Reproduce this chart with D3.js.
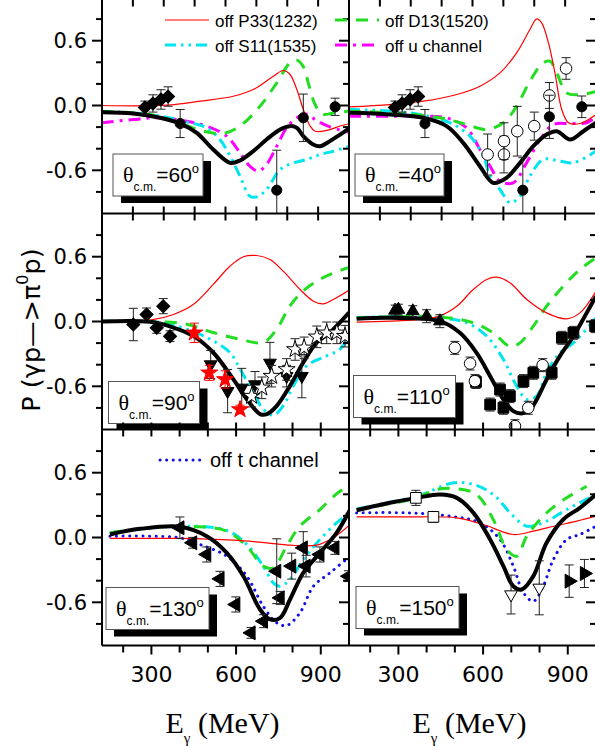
<!DOCTYPE html>
<html><head><meta charset="utf-8">
<script src="https://cdn.jsdelivr.net/npm/d3@7"></script>
<style>body{margin:0;background:#fff}svg{display:block}</style>
</head><body>
<svg id="chart" width="595" height="746"></svg>
<script>
// ---------------- DATA ----------------
const angles = [60, 40, 90, 110, 130, 150];
const yTickValues = [-1, -0.8, -0.6, -0.4, -0.2, 0, 0.2, 0.4, 0.6, 0.8, 1];
const yTickLabels = ["0.6", "0.0", "-0.6"];
const yLabelValues = [0.6, 0, -0.6];
const xTickValues = [100, 200, 300, 400, 500, 600, 700, 800, 900, 1000];
const xTickLabels = ["300", "600", "900"];
const xLabelValues = [300, 600, 900];
const legendLabels = ["off P33(1232)", "off S11(1535)", "off D13(1520)", "off u channel", "off t channel"];

// Panel 60 deg
const a60_full = [[99,-0.062],[201,-0.074],[288,-0.114],[353,-0.167],[407,-0.253],[460,-0.407],[515,-0.531],[547,-0.509],[590,-0.423],[633,-0.315],[677,-0.222],[709,-0.191],[731,-0.207],[752,-0.284],[784,-0.361],[806,-0.377],[838,-0.33],[871,-0.269],[903,-0.207]];
const a60_p33 = [[99,0.0],[310,0.003],[417,0.04],[525,0.086],[590,0.148],[655,0.27],[687,0.324],[709,0.287],[731,0.148],[752,-0.037],[774,-0.19],[790,-0.238],[828,-0.231],[871,-0.19],[903,-0.167]];
const a60_d13 = [[99,-0.059],[255,-0.083],[363,-0.175],[428,-0.237],[493,-0.26],[547,-0.19],[612,-0.006],[666,0.21],[709,0.395],[731,0.42],[752,0.36],[768,0.21],[790,0.01],[812,-0.08],[849,-0.07],[903,-0.05]];
const a60_s11 = [[99,-0.053],[255,-0.083],[363,-0.145],[439,-0.207],[482,-0.315],[515,-0.469],[547,-0.654],[579,-0.84],[601,-0.846],[633,-0.778],[677,-0.593],[720,-0.531],[763,-0.5],[806,-0.454],[849,-0.423],[903,-0.377]];
const a60_u = [[99,-0.16],[201,-0.13],[288,-0.114],[374,-0.145],[439,-0.191],[504,-0.284],[547,-0.438],[579,-0.562],[606,-0.608],[633,-0.546],[666,-0.377],[698,-0.207],[731,-0.114],[763,-0.08],[795,-0.14],[840,-0.2],[903,-0.25]];
const a60_diamondE = [239, 265, 291, 314];
const a60_diamondP = [-0.019, 0.019, 0.056, 0.083];
const a60_diamondErr = [0.06, 0.08, 0.09, 0.09];
const a60_circleE = [353, 666, 752, 855];
const a60_circleP = [-0.167, -0.784, -0.114, -0.012];
const a60_circleErr = [0.13, 0.37, 0.22, 0.08];

// Panel 40 deg
const a40_full = [[100,-0.068],[233,-0.083],[341,-0.114],[416,-0.191],[470,-0.346],[524,-0.562],[567,-0.716],[610,-0.67],[654,-0.531],[697,-0.377],[740,-0.269],[773,-0.238],[816,-0.315],[859,-0.238],[900,-0.16]];
const a40_p33 = [[100,-0.012],[233,0.009],[341,0.04],[449,0.102],[524,0.179],[589,0.302],[643,0.488],[686,0.704],[708,0.802],[724,0.765],[746,0.58],[767,0.302],[789,-0.037],[811,-0.16],[848,-0.167],[900,-0.083]];
const a40_d13 = [[100,-0.053],[233,-0.068],[395,-0.114],[481,-0.176],[546,-0.222],[600,-0.16],[643,-0.006],[686,0.225],[729,0.395],[751,0.41],[773,0.302],[805,0.117],[848,0.1],[900,0.13]];
const a40_s11 = [[100,-0.037],[233,-0.052],[330,-0.083],[427,-0.16],[492,-0.284],[535,-0.469],[557,-0.654],[589,-0.778],[622,-0.9],[654,-0.84],[686,-0.654],[729,-0.5],[783,-0.515],[827,-0.531],[900,-0.423]];
const a40_u = [[100,-0.099],[233,-0.099],[341,-0.099],[416,-0.114],[481,-0.207],[524,-0.407],[557,-0.562],[589,-0.701],[632,-0.716],[675,-0.531],[719,-0.315],[762,-0.176],[816,-0.167],[870,-0.16],[900,-0.099]];
const a40_diamondE = [249, 272, 298, 324];
const a40_diamondP = [-0.019, 0.019, 0.056, 0.083];
const a40_diamondErr = [0.06, 0.08, 0.09, 0.09];
const a40_circleE = [346, 663, 749, 854];
const a40_circleP = [-0.167, -0.784, -0.105, -0.012];
const a40_circleErr = [0.13, 0.3, 0.2, 0.1];
const a40_openE = [549, 602, 602, 645, 700, 749, 803];
const a40_openP = [-0.454, -0.454, -0.33, -0.238, -0.191, 0.093, 0.343];
const a40_openErr = [0.19, 0.17, 0.17, 0.23, 0.13, 0.12, 0.1];

// Panel 90 deg
const a90_full = [[124,0],[295,-0.003],[378,-0.056],[448,-0.133],[519,-0.287],[590,-0.534],[638,-0.719],[685,-0.858],[709,-0.858],[744,-0.781],[791,-0.596],[838,-0.38],[886,-0.194],[933,-0.102],[968,-0.009],[1000,0.083]];
const a90_p33 = [[124,0],[295,0.012],[378,0.065],[448,0.157],[519,0.343],[578,0.512],[626,0.6],[673,0.611],[720,0.574],[767,0.466],[827,0.296],[874,0.188],[909,0.164],[944,0.204],[1000,0.29]];
const a90_d13 = [[124,0],[295,0],[425,-0.025],[519,-0.102],[614,-0.164],[696,-0.194],[744,-0.071],[791,0.145],[838,0.284],[909,0.407],[1000,0.5]];
const a90_s11 = [[124,0],[330,-0.009],[425,-0.071],[508,-0.164],[578,-0.287],[614,-0.441],[661,-0.657],[696,-0.812],[732,-0.867],[767,-0.781],[803,-0.596],[850,-0.411],[921,-0.318],[968,-0.256],[1000,-0.133]];
const a90_diamondE = [236, 283, 319, 342, 366];
const a90_diamondP = [-0.028, 0.065, -0.059, 0.142, -0.136];
const a90_diamondErr = [0.15, 0.06, 0.05, 0.07, 0.05];
const a90_redStarE = [452, 505, 561, 614];
const a90_redStarP = [-0.105, -0.475, -0.537, -0.815];
const a90_redStarErr = [0.09, 0.07, 0.08, 0.04];
const a90_downE = [510, 570, 620, 667, 720, 779, 833];
const a90_downP = [-0.398, -0.645, -0.614, -0.583, -0.383, -0.506, -0.506];
const a90_downErr = [0.13, 0.2, 0.18, 0.12, 0.19, 0.1, 0.2];
const a90_openStarE = [655, 691, 726, 779, 809, 841, 886, 921, 957, 986];
const a90_openStarP = [-0.691, -0.614, -0.506, -0.444, -0.259, -0.244, -0.142, -0.105, -0.105, -0.136];
const a90_openStarErr = [0.1, 0.1, 0.1, 0.1, 0.1, 0.1, 0.1, 0.1, 0.1, 0.1];

// Panel 110 deg
const a110_full = [[152,0.025],[270,0.034],[447,0.003],[518,-0.105],[577,-0.29],[625,-0.506],[672,-0.722],[707,-0.83],[740,-0.85],[765,-0.82],[790,-0.722],[825,-0.537],[872,-0.321],[920,-0.136],[967,0.08],[1000,0.234]];
const a110_p33 = [[152,-0.006],[270,0.003],[436,0.043],[507,0.142],[565,0.296],[613,0.389],[648,0.41],[695,0.358],[755,0.204],[825,0.08],[896,0.025],[943,0.08],[1000,0.281]];
const a110_d13 = [[152,0.034],[270,0.043],[447,0.043],[565,-0.012],[636,-0.105],[695,-0.23],[730,-0.2],[778,-0.043],[825,0.142],[884,0.327],[943,0.481],[1000,0.59]];
const a110_s11 = [[152,0.034],[329,0.049],[447,0.034],[542,-0.012],[613,-0.136],[672,-0.352],[719,-0.599],[755,-0.722],[790,-0.691],[825,-0.475],[872,-0.29],[920,-0.198],[1000,0.034]];
const a110_upE = [288, 300, 351, 400, 447];
const a110_upP = [0.102, 0.11, 0.096, 0.049, 0.003];
const a110_upErr = [0.05, 0.05, 0.05, 0.06, 0.06];
const a110_openE = [500, 554, 571, 713, 760, 811];
const a110_openP = [-0.244, -0.389, -0.552, -0.969, -0.799, -0.404];
const a110_openErr = [0.06, 0.06, 0.06, 0.06, 0.06, 0.06];
const a110_squareE = [575, 625, 660, 672, 695, 743, 778, 843, 879, 920, 997];
const a110_squareP = [-0.56, -0.769, -0.63, -0.799, -0.691, -0.552, -0.475, -0.475, -0.151, -0.105, -0.043];
const a110_squareErr = [0.06, 0.06, 0.06, 0.06, 0.06, 0.06, 0.06, 0.06, 0.06, 0.06, 0.06];

// Panel 130 deg
const a130_full = [[153,0.028],[260,0.08],[401,0.099],[496,0.012],[567,-0.142],[626,-0.358],[685,-0.667],[720,-0.759],[756,-0.744],[791,-0.574],[838,-0.327],[897,-0.142],[956,0.043],[1004,0.259]];
const a130_p33 = [[153,-0.009],[401,-0.009],[590,-0.025],[708,-0.049],[791,-0.071],[886,-0.071],[944,-0.003],[1004,0.12]];
const a130_d13 = [[153,0.043],[295,0.093],[472,0.099],[567,0.059],[638,-0.08],[696,-0.265],[732,-0.28],[779,-0.08],[826,0.105],[897,0.259],[968,0.429],[1004,0.475]];
const a130_s11 = [[153,0.043],[401,0.105],[567,0.065],[638,-0.065],[696,-0.265],[732,-0.42],[756,-0.451],[791,-0.389],[838,-0.204],[897,-0.019],[956,0.136],[1004,0.228]];
const a130_t = [[153,0.012],[295,0.012],[401,-0.003],[472,-0.065],[567,-0.173],[638,-0.358],[696,-0.636],[744,-0.79],[779,-0.815],[826,-0.698],[874,-0.451],[933,-0.327],[1004,-0.173]];
const a130_leftE = [401, 446, 496, 543, 599, 653, 697, 756, 744, 797, 838, 848, 897, 950, 998];
const a130_leftP = [0.09, -0.049, -0.157, -0.383, -0.62, -0.883, -0.775, -0.559, -0.312, -0.265, -0.096, -0.265, -0.157, -0.096, -0.358];
const a130_leftErr = [0.1, 0.05, 0.07, 0.07, 0.07, 0.05, 0.06, 0.06, 0.3, 0.12, 0.15, 0.1, 0.07, 0.06, 0.05];

// Panel 150 deg
const a150_full = [[152,0.253],[270,0.321],[365,0.367],[447,0.398],[507,0.367],[566,0.228],[625,-0.019],[672,-0.265],[707,-0.451],[737,-0.481],[778,-0.358],[825,-0.049],[884,0.167],[943,0.275],[1000,0.398]];
const a150_p33 = [[152,0.191],[329,0.191],[507,0.182],[601,0.12],[707,0.028],[778,0.059],[861,0.111],[932,0.151],[1000,0.197]];
const a150_d13 = [[152,0.259],[365,0.367],[436,0.444],[507,0.451],[577,0.398],[636,0.167],[684,-0.111],[719,-0.173],[755,0.012],[825,0.228],[896,0.367],[967,0.475]];
const a150_s11 = [[152,0.265],[365,0.383],[495,0.506],[566,0.491],[636,0.398],[707,0.197],[755,0.105],[825,0.151],[896,0.259],[1000,0.398]];
const a150_t = [[152,0.228],[329,0.228],[486,0.197],[589,0.136],[660,-0.019],[707,-0.265],[743,-0.512],[778,-0.59],[813,-0.451],[849,-0.204],[896,-0.019],[943,0.028],[1000,0.105]];
const a150_openSqE = [362, 424];
const a150_openSqP = [0.367, 0.191];
const a150_openSqErr = [0.07, 0.05];
const a150_openDownE = [699, 799];
const a150_openDownP = [-0.528, -0.466];
const a150_openDownErr = [0.18, 0.25];
const a150_rightE = [905, 959];
const a150_rightP = [-0.404, -0.333];
const a150_rightErr = [0.15, 0.13];

// ---------------- LAYOUT / STYLE ----------------
const W = 595, H = 746;
const colLeft = [102, 349], panelW = 247;
const rowTop = [-2.5, 213.5, 429.5], panelH = 216;
const rowDomain = [[100, 900], [125, 1000], [125, 1000]];
const styles = {
  full: {stroke: "#000", width: 4, dash: null},
  p33: {stroke: "#ff0000", width: 1.2, dash: null},
  d13: {stroke: "#22dd22", width: 3, dash: "12,9"},
  s11: {stroke: "#00e5ee", width: 3, dash: "11,5,2.5,5,2.5,5"},
  u: {stroke: "#ff00ff", width: 3, dash: "12,6,3,6"},
  t: {stroke: "#1010e8", width: 3, dash: "0.1,6.5", cap: "round"}
};

function pts(E, P, Err) { return E.map((e, i) => ({e, p: P[i], err: Err[i]})); }

const panels = [
  {angle: angles[0], row: 0, col: 0, curves: {u: a60_u, s11: a60_s11, d13: a60_d13, p33: a60_p33, full: a60_full},
   data: [{sym: "diamond", fill: "#000", pts: pts(a60_diamondE, a60_diamondP, a60_diamondErr)},
          {sym: "circle", fill: "#000", pts: pts(a60_circleE, a60_circleP, a60_circleErr)}],
   box: [11, -59.5, 90]},
  {angle: angles[1], row: 0, col: 1, curves: {u: a40_u, s11: a40_s11, d13: a40_d13, p33: a40_p33, full: a40_full},
   data: [{sym: "diamond", fill: "#000", pts: pts(a40_diamondE, a40_diamondP, a40_diamondErr)},
          {sym: "openCircle", fill: "#fff", pts: pts(a40_openE, a40_openP, a40_openErr)},
          {sym: "circle", fill: "#000", pts: pts(a40_circleE, a40_circleP, a40_circleErr)}],
   box: [6, -59.5, 89]},
  {angle: angles[2], row: 1, col: 0, curves: {s11: a90_s11, d13: a90_d13, p33: a90_p33, full: a90_full},
   data: [{sym: "diamond", fill: "#000", pts: pts(a90_diamondE, a90_diamondP, a90_diamondErr)},
          {sym: "down", fill: "#000", pts: pts(a90_downE, a90_downP, a90_downErr)},
          {sym: "star", fill: "#fff", pts: pts(a90_openStarE, a90_openStarP, a90_openStarErr)},
          {sym: "star", fill: "#ff0000", stroke: "#ff0000", err: "#ff0000", pts: pts(a90_redStarE, a90_redStarP, a90_redStarErr)}],
   box: [6.5, -48, 91]},
  {angle: angles[3], row: 1, col: 1, curves: {s11: a110_s11, d13: a110_d13, p33: a110_p33, full: a110_full},
   data: [{sym: "up", fill: "#000", pts: pts(a110_upE, a110_upP, a110_upErr)},
          {sym: "square", fill: "#000", pts: pts(a110_squareE, a110_squareP, a110_squareErr)},
          {sym: "openCircle", fill: "#fff", pts: pts(a110_openE, a110_openP, a110_openErr)}],
   box: [4.5, -54, 102]},
  {angle: angles[4], row: 2, col: 0, curves: {t: a130_t, s11: a130_s11, d13: a130_d13, p33: a130_p33, full: a130_full},
   data: [{sym: "left", fill: "#000", pts: pts(a130_leftE, a130_leftP, a130_leftErr)}],
   box: [4, -58, 103]},
  {angle: angles[5], row: 2, col: 1, curves: {t: a150_t, p33: a150_p33, s11: a150_s11, d13: a150_d13, full: a150_full},
   data: [{sym: "square", fill: "#fff", pts: pts(a150_openSqE, a150_openSqP, a150_openSqErr)},
          {sym: "down", fill: "#fff", pts: pts(a150_openDownE, a150_openDownP, a150_openDownErr)},
          {sym: "right", fill: "#000", pts: pts(a150_rightE, a150_rightP, a150_rightErr)}],
   box: [7, -59, 103]}
];

const svg = d3.select("#chart");
svg.append("rect").attr("width", W).attr("height", H).attr("fill", "#fff");
const defs = svg.append("defs");
const SANS = "'Liberation Sans', Arial, sans-serif";
const WIDE = "'DejaVu Sans', Verdana, sans-serif";
const SERIF = "'Liberation Serif', 'Times New Roman', serif";

function symbolPath(sym) {
  switch (sym) {
    case "circle": return {p: d3.symbol(d3.symbolCircle, 80)(), r: 0};
    case "openCircle": return {p: d3.symbol(d3.symbolCircle, 105)(), r: 0};
    case "square": return {p: d3.symbol(d3.symbolSquare, 115)(), r: 0};
    case "diamond": return {p: d3.symbol(d3.symbolSquare, 85)(), r: 45};
    case "star": return {p: d3.symbol(d3.symbolStar, 90)(), r: 0};
    case "up": return {p: d3.symbol(d3.symbolTriangle, 70)(), r: 0};
    case "down": return {p: d3.symbol(d3.symbolTriangle, 70)(), r: 180};
    case "left": return {p: d3.symbol(d3.symbolTriangle, 85)(), r: -90};
    case "right": return {p: d3.symbol(d3.symbolTriangle, 85)(), r: 90};
  }
}

panels.forEach((pn, idx) => {
  const x0 = colLeft[pn.col], y0 = rowTop[pn.row];
  const x = d3.scaleLinear().domain(rowDomain[pn.row]).range([x0, x0 + panelW]);
  const y = d3.scaleLinear().domain([-1, 1]).range([y0 + panelH, y0]);
  const clipId = "clip" + idx;
  defs.append("clipPath").attr("id", clipId).append("rect")
    .attr("x", x0).attr("y", y0).attr("width", panelW).attr("height", panelH);
  const g = svg.append("g");
  const plot = g.append("g").attr("clip-path", `url(#${clipId})`);
  const line = d3.line().x(d => x(d[0])).y(d => y(d[1])).curve(d3.curveCatmullRom.alpha(0.5));
  Object.entries(pn.curves).forEach(([k, arr]) => {
    const s = styles[k];
    plot.append("path").attr("d", line(arr)).attr("fill", "none")
      .attr("stroke", s.stroke).attr("stroke-width", s.width)
      .attr("stroke-dasharray", s.dash).attr("stroke-linecap", s.cap || "butt")
      .attr("stroke-linejoin", "round");
  });
  pn.data.forEach(set => {
    const sp = symbolPath(set.sym);
    set.pts.forEach(d => {
      const cx = x(d.e), cy = y(d.p), t = y(d.p + d.err), b = y(d.p - d.err);
      const ec = set.err || "#222";
      plot.append("line").attr("x1", cx).attr("x2", cx).attr("y1", t).attr("y2", b).attr("stroke", ec).attr("stroke-width", 1);
      [t, b].forEach(yy => plot.append("line").attr("x1", cx - 4.5).attr("x2", cx + 4.5).attr("y1", yy).attr("y2", yy).attr("stroke", ec).attr("stroke-width", 1));
      plot.append("path").attr("d", sp.p).attr("transform", `translate(${cx},${cy}) rotate(${sp.r})`)
        .attr("fill", set.fill).attr("stroke", set.stroke || "#000").attr("stroke-width", 1);
    });
  });
  // label box
  const bx = x0 + pn.box[0], by = y0 + panelH + pn.box[1], bw = pn.box[2], bh = 42;
  plot.append("rect").attr("x", bx + 8).attr("y", by + 7).attr("width", bw).attr("height", bh).attr("fill", "#000");
  plot.append("rect").attr("x", bx).attr("y", by).attr("width", bw).attr("height", bh).attr("fill", "#fff").attr("stroke", "#555").attr("stroke-width", 1);
  const tx = g.append("text").attr("x", bx + 10).attr("y", by + 28).attr("font-family", SANS).attr("fill", "#000");
  tx.append("tspan").attr("font-family", SERIF).attr("font-size", 22).text("θ");
  tx.append("tspan").attr("font-size", 12).attr("dy", 9).text("c.m.");
  tx.append("tspan").attr("font-size", 21).attr("dy", -9).text("=" + pn.angle);
  tx.append("tspan").attr("font-size", 13).attr("dy", -9).text("o");

  const ax = svg.append("g");
  xTickValues.filter(v => v > rowDomain[pn.row][0] && v < rowDomain[pn.row][1]).forEach(v => {
    const major = xLabelValues.includes(v) && pn.row === 2;
    ax.append("line").attr("x1", x(v)).attr("x2", x(v)).attr("y1", y0 + panelH - (pn.row < 2 ? 7 : 0)).attr("y2", y0 + panelH + (major ? 9 : 7))
      .attr("stroke", "#000").attr("stroke-width", 2);
  });
  if (pn.row === 0) {
    xTickValues.filter(v => v > rowDomain[0][0] && v < rowDomain[0][1]).forEach(v => {
      ax.append("line").attr("x1", x(v)).attr("x2", x(v)).attr("y1", y0).attr("y2", y0 + 9).attr("stroke", "#000").attr("stroke-width", 2);
    });
  }
  yTickValues.filter(v => v > -1 && v < 1).forEach(v => {
    const major = yLabelValues.includes(v);
    ax.append("line").attr("x1", x0 - (major ? 10 : 6)).attr("x2", x0).attr("y1", y(v)).attr("y2", y(v))
      .attr("stroke", "#000").attr("stroke-width", 2);
  });
  if (pn.col === 1) {
    yTickValues.filter(v => v > -1 && v < 1).forEach(v => {
      const major = yLabelValues.includes(v);
      ax.append("line").attr("x1", x0 + panelW - (major ? 10 : 6)).attr("x2", x0 + panelW).attr("y1", y(v)).attr("y2", y(v))
        .attr("stroke", "#000").attr("stroke-width", 2);
    });
  }
  if (pn.col === 0) {
    yLabelValues.forEach((v, i) => {
      ax.append("text").attr("x", x0 - 15).attr("y", y(v) + 7.5).attr("text-anchor", "end")
        .attr("font-family", WIDE).attr("font-size", 21).text(yTickLabels[i]);
    });
  }
  if (pn.row === 2) {
    xLabelValues.forEach((v, i) => {
      ax.append("text").attr("x", x(v)).attr("y", y0 + panelH + 36).attr("text-anchor", "middle")
        .attr("font-family", WIDE).attr("font-size", 22).text(xTickLabels[i]);
    });
    const t = ax.append("text").attr("x", x0 + panelW / 2 - 3).attr("y", 733).attr("text-anchor", "middle")
      .attr("font-family", SERIF).attr("font-size", 30);
    t.append("tspan").text("E");
    t.append("tspan").attr("font-size", 15).attr("dy", 10).text("γ");
    t.append("tspan").attr("dy", -10).text(" (MeV)");
  }
});

// frame lines
const frame = svg.append("g").attr("stroke", "#000").attr("stroke-width", 2);
rowTop.concat([rowTop[2] + panelH]).forEach(yy => frame.append("line").attr("x1", colLeft[0]).attr("x2", 597).attr("y1", yy).attr("y2", yy));
[colLeft[0], colLeft[1]].forEach(xx => frame.append("line").attr("x1", xx).attr("x2", xx).attr("y1", -3).attr("y2", rowTop[2] + panelH));

// legends
const leg = svg.append("g").attr("font-family", SANS);
const legendItems = [
  {k: "p33", x: 165, y: 20, label: legendLabels[0], fs: 17},
  {k: "s11", x: 165, y: 45, label: legendLabels[1], fs: 17},
  {k: "d13", x: 335, y: 20, label: legendLabels[2], fs: 17},
  {k: "u", x: 335, y: 45, label: legendLabels[3], fs: 17},
  {k: "t", x: 160, y: 460, label: legendLabels[4], fs: 20}
];
legendItems.forEach(it => {
  const s = styles[it.k];
  leg.append("line").attr("x1", it.x).attr("x2", it.x + 44).attr("y1", it.y).attr("y2", it.y)
    .attr("stroke", s.stroke).attr("stroke-width", s.width).attr("stroke-dasharray", s.dash).attr("stroke-linecap", s.cap || "butt");
  leg.append("text").attr("x", it.x + 50).attr("y", it.y + 6.5).attr("font-size", it.fs).text(it.label);
});

// y-axis title
const yt = svg.append("text").attr("transform", "translate(40,330) rotate(-90)").attr("text-anchor", "middle")
  .attr("font-family", WIDE).attr("font-size", 25.5);
yt.append("tspan").text("P (γp—>π");
yt.append("tspan").attr("font-size", 16).attr("dy", -12).text("0");
yt.append("tspan").attr("dy", 12).text("p)");
</script>
</body></html>
